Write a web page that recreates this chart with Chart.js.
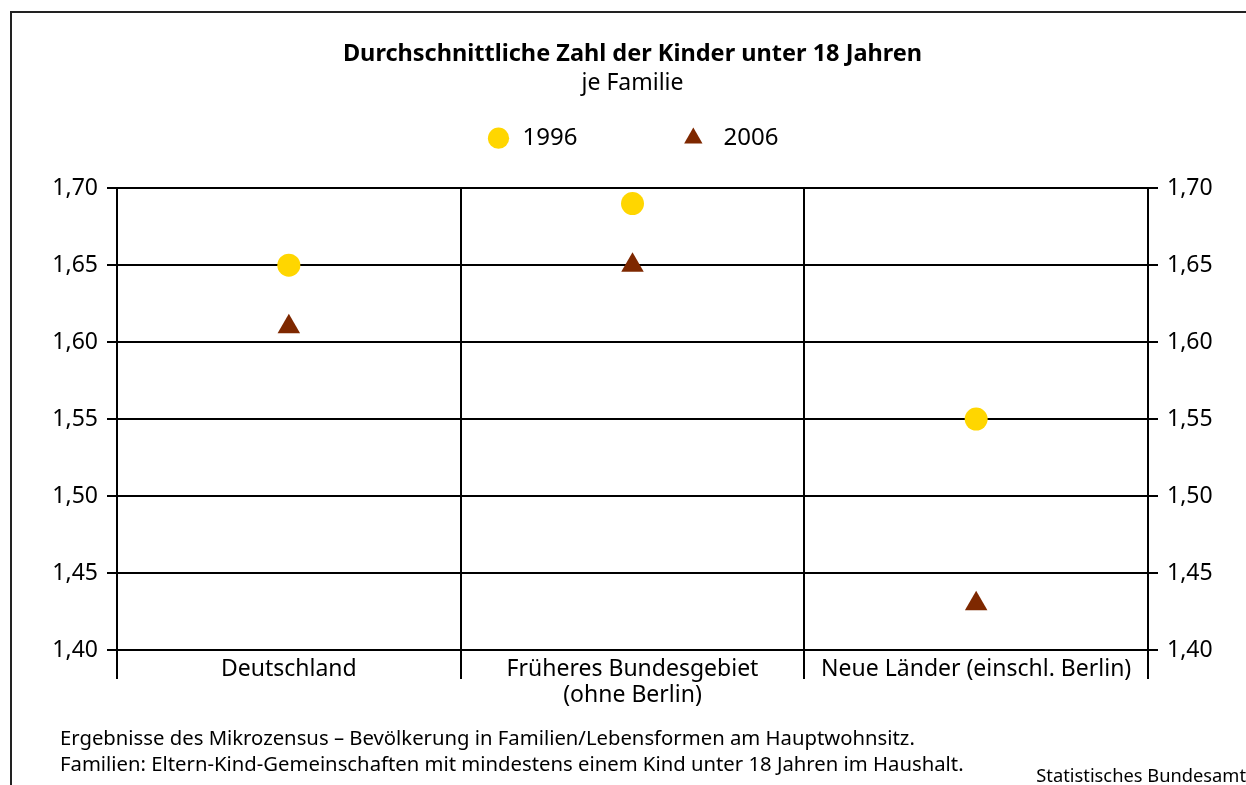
<!DOCTYPE html>
<html lang="de">
<head>
<meta charset="utf-8">
<title>Durchschnittliche Zahl der Kinder unter 18 Jahren</title>
<script src="https://cdn.jsdelivr.net/npm/chart.js@4.4.1/dist/chart.umd.min.js"></script>
<style>
    html, body { margin: 0; padding: 0; background: #fff; }
    body { width: 1246px; height: 785px; position: relative; overflow: hidden; font-family: "Noto Sans", sans-serif; color: #000; }
    #wrap { position: absolute; left: 0; top: 0; width: 1246px; height: 785px; }
    .frame { position: absolute; left: 10px; top: 11px; width: 1300px; height: 900px; border-left: 2px solid #222; border-top: 2px solid #222; pointer-events: none; }
    .note { position: absolute; left: 60px; font-size: 20.3px; line-height: 26px; white-space: nowrap; }
    .source { position: absolute; right: 0; top: 763px; font-size: 18.3px; line-height: 24px; white-space: nowrap; }
</style>
</head>
<body>
<div id="wrap"><canvas id="kinderChart" width="1246" height="785"></canvas></div>
<div class="frame"></div>
<div class="note" style="top:724px">Ergebnisse des Mikrozensus – Bevölkerung in Familien/Lebensformen am Hauptwohnsitz.</div>
<div class="note" style="top:750px">Familien: Eltern-Kind-Gemeinschaften mit mindestens einem Kind unter 18 Jahren im Haushalt.</div>
<div class="source">Statistisches Bundesamt</div>

<script>
// Data
const regions = ['Deutschland', ['Früheres Bundesgebiet', '(ohne Berlin)'], 'Neue Länder (einschl. Berlin)'];
const years = ['1996', '2006'];
const kinder1996 = [1.65, 1.69, 1.55];
const kinder2006 = [1.61, 1.65, 1.43];
const yTicks = [1.40, 1.45, 1.50, 1.55, 1.60, 1.65, 1.70];

const YELLOW = '#ffd600';
const BROWN = '#7e2800';
const FONT = '"Noto Sans", sans-serif';

const fmt = v => Number(v).toFixed(2).replace('.', ',');

// legend needs some extra room below it
const legendSpacer = {
    id: 'legendSpacer',
    beforeInit(chart) {
        const fit = chart.legend.fit;
        chart.legend.fit = function() {
            fit.bind(chart.legend)();
            this.height += 28;
        };
    }
};

const ctx = document.getElementById('kinderChart').getContext('2d');
const chart = new Chart(ctx, {
    type: 'line',
    data: {
        labels: regions,
        datasets: [
            {
                label: years[0],
                data: kinder1996,
                showLine: false,
                pointStyle: 'circle',
                pointRadius: 11.5,
                pointHoverRadius: 11.5,
                pointBackgroundColor: YELLOW,
                pointBorderWidth: 0,
                backgroundColor: YELLOW,
                borderColor: YELLOW
            },
            {
                label: years[1],
                data: kinder2006,
                showLine: false,
                pointStyle: 'triangle',
                pointRadius: 13,
                pointHoverRadius: 13,
                pointBackgroundColor: BROWN,
                pointBorderWidth: 0,
                backgroundColor: BROWN,
                borderColor: BROWN
            }
        ]
    },
    options: {
        responsive: false,
        animation: false,
        layout: { padding: { left: 19, right: 0, top: 0, bottom: 0 } },
        plugins: {
            tooltip: { enabled: false },
            title: {
                display: true,
                text: 'Durchschnittliche Zahl der Kinder unter 18 Jahren',
                color: '#000',
                font: { family: FONT, size: 23.5, weight: 'bold', lineHeight: 1.2 },
                padding: { top: 40, bottom: 0 }
            },
            subtitle: {
                display: true,
                text: 'je Familie',
                color: '#000',
                font: { family: FONT, size: 23, lineHeight: 1.2 },
                padding: { top: 1.4, bottom: 0 }
            },
            legend: {
                display: true,
                position: 'top',
                labels: {
                    usePointStyle: true,
                    boxWidth: 24,
                    boxHeight: 15,
                    padding: 29,
                    color: '#000',
                    font: { family: FONT, size: 24 },
                    generateLabels(c) {
                        const items = Chart.defaults.plugins.legend.labels.generateLabels(c);
                        items[0].text = items[0].text + ' '.repeat(12);
                        items[1].text = ' ' + items[1].text;
                        items.forEach(it => { it.lineWidth = 0; });
                        return items;
                    }
                }
            }
        },
        scales: {
            x: {
                type: 'category',
                offset: true,
                grid: {
                    offset: true,
                    color: '#000',
                    lineWidth: 2,
                    tickLength: 29,
                    drawTicks: true
                },
                border: { display: true, color: '#000', width: 2 },
                ticks: {
                    color: '#000',
                    padding: -23,
                    maxRotation: 0,
                    autoSkip: false,
                    font: { family: FONT, size: 23, lineHeight: 1.13 }
                },
                afterFit(scale) { scale.height = 135; }
            },
            y: {
                position: 'left',
                min: 1.40,
                max: 1.70,
                afterBuildTicks(scale) { scale.ticks = yTicks.map(v => ({ value: v })); },
                grid: { color: '#000', lineWidth: 2, tickLength: 10 },
                border: { display: true, color: '#000', width: 2 },
                ticks: {
                    color: '#000',
                    padding: 9,
                    font: { family: FONT, size: 23 },
                    callback: v => fmt(v)
                },
                afterFit(scale) { scale.width = 98; }
            },
            y2: {
                position: 'right',
                min: 1.40,
                max: 1.70,
                afterBuildTicks(scale) { scale.ticks = yTicks.map(v => ({ value: v })); },
                grid: { color: '#000', lineWidth: 2, tickLength: 10, drawOnChartArea: false },
                border: { display: true, color: '#000', width: 2 },
                ticks: {
                    color: '#000',
                    padding: 9,
                    font: { family: FONT, size: 23 },
                    callback: v => fmt(v)
                },
                afterFit(scale) { scale.width = 98; }
            }
        }
    },
    plugins: [legendSpacer]
});
</script>
</body>
</html>
